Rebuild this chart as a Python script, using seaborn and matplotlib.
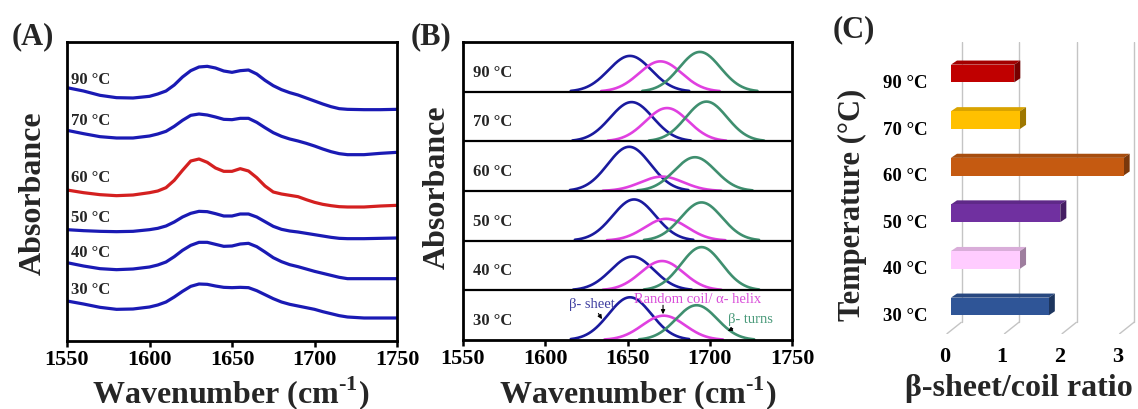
import numpy as np
import pandas as pd
import matplotlib
matplotlib.use("Agg")
import matplotlib.pyplot as plt
import seaborn as sns
from matplotlib.patches import Polygon
from matplotlib.colors import to_rgb

# ---------------- data ----------------
temps = ["30 °C", "40 °C", "50 °C", "60 °C", "70 °C", "90 °C"]   # bottom -> top

# (A) FTIR spectra (offset absorbance, a.u.)
wavenumber = [1550, 1560, 1570, 1580, 1590, 1600, 1605, 1610, 1615, 1620, 1625, 1630, 1635,
              1640, 1645, 1650, 1655, 1660, 1665, 1670, 1675, 1680, 1685, 1690, 1695, 1700,
              1705, 1710, 1715, 1720, 1730, 1740, 1750]
abs_30 = [1.20, 1.11, 1.01, 0.95, 0.96, 1.02, 1.08, 1.17, 1.32, 1.49, 1.64, 1.71, 1.70,
          1.65, 1.61, 1.60, 1.61, 1.60, 1.51, 1.39, 1.27, 1.17, 1.10, 1.05, 1.00, 0.95,
          0.88, 0.82, 0.76, 0.72, 0.69, 0.69, 0.69]
abs_40 = [2.35, 2.25, 2.17, 2.14, 2.16, 2.22, 2.28, 2.37, 2.53, 2.72, 2.87, 2.96, 2.96,
          2.90, 2.84, 2.85, 2.91, 2.93, 2.83, 2.67, 2.50, 2.38, 2.29, 2.23, 2.16, 2.09,
          2.03, 1.97, 1.91, 1.87, 1.87, 1.87, 1.87]
abs_50 = [3.34, 3.31, 3.29, 3.28, 3.29, 3.34, 3.38, 3.45, 3.57, 3.72, 3.83, 3.89, 3.88,
          3.82, 3.75, 3.75, 3.81, 3.81, 3.72, 3.58, 3.44, 3.35, 3.30, 3.27, 3.23, 3.19,
          3.15, 3.11, 3.08, 3.07, 3.07, 3.08, 3.09]
abs_60 = [4.53, 4.45, 4.39, 4.36, 4.38, 4.45, 4.50, 4.60, 4.82, 5.12, 5.40, 5.46, 5.36,
          5.19, 5.09, 5.09, 5.17, 5.10, 4.90, 4.65, 4.47, 4.41, 4.37, 4.33, 4.24, 4.16,
          4.10, 4.06, 4.03, 4.02, 4.02, 4.05, 4.07]
abs_70 = [6.32, 6.22, 6.13, 6.09, 6.09, 6.15, 6.21, 6.29, 6.44, 6.62, 6.77, 6.81, 6.78,
          6.72, 6.65, 6.64, 6.68, 6.68, 6.56, 6.40, 6.25, 6.14, 6.06, 6.00, 5.93, 5.85,
          5.76, 5.68, 5.62, 5.59, 5.59, 5.63, 5.66]
abs_90 = [7.60, 7.50, 7.37, 7.30, 7.29, 7.34, 7.41, 7.50, 7.68, 7.92, 8.11, 8.22, 8.24,
          8.19, 8.10, 8.06, 8.11, 8.13, 8.01, 7.82, 7.66, 7.54, 7.45, 7.38, 7.29, 7.20,
          7.11, 7.03, 6.97, 6.95, 6.94, 6.94, 6.95]
label_y_A = [1.57, 2.68, 3.73, 4.93, 6.64, 7.87]

# (B) Gaussian band fit: centre (cm-1), relative height, width (sigma, cm-1)
sheet_center = [1651.5, 1653.0, 1654.0, 1651.0, 1652.5, 1651.5]
sheet_height = [0.86, 0.68, 0.83, 0.89, 0.79, 0.72]
coil_center = [1672.0, 1671.0, 1673.5, 1671.0, 1674.0, 1670.0]
coil_height = [0.49, 0.59, 0.44, 0.29, 0.67, 0.61]
turn_center = [1692.0, 1695.0, 1695.0, 1691.0, 1698.0, 1694.0]
turn_height = [0.70, 0.87, 0.77, 0.68, 0.80, 0.80]
band_names = ["β-sheet", "Random coil/α-helix", "β-turns"]
band_sigma = [13.0, 13.0, 12.5]

# (C) beta-sheet / coil ratio
ratio = [1.7, 1.2, 1.9, 3.0, 1.2, 1.1]
bar_colors = ["#2f5597", "#ffccff", "#7030a0", "#c55a11", "#ffc000", "#c00000"]
xticks_C = [0, 1, 2, 3]

# ---------------- style ----------------
sns.set_style("white")
plt.rcParams["font.family"] = ["Liberation Serif", "DejaVu Serif"]
plt.rcParams["font.weight"] = "bold"
plt.rcParams["mathtext.fontset"] = "custom"
plt.rcParams["mathtext.rm"] = "Liberation Serif"
plt.rcParams["mathtext.bf"] = "Liberation Serif:bold"

W, H = 1138, 410
fig = plt.figure(figsize=(W / 100, H / 100), dpi=100)


def box(l, r, t, b):
    return [l / W, (H - b) / H, (r - l) / W, (b - t) / H]


xlabel = r"Wavenumber (cm$^{\mathbf{\text{-}1}}$)"
blue_A, red_A = "#1a1ab4", "#d42020"

# ---------------- (A) ----------------
axA = fig.add_axes(box(67, 397, 43, 342))
series = [abs_30, abs_40, abs_50, abs_60, abs_70, abs_90]
dfA = pd.DataFrame({
    "wn": np.tile(wavenumber, len(temps)),
    "abs": np.concatenate(series),
    "T": np.repeat(temps, len(wavenumber)),
})
palA = {t: (red_A if t == "60 °C" else blue_A) for t in temps}
sns.lineplot(data=dfA, x="wn", y="abs", hue="T", palette=palA, estimator=None,
             linewidth=2.3, legend=False, ax=axA)
for ln in axA.lines:
    ln.set_solid_joinstyle("round")
for t, yv in zip(temps, label_y_A):
    axA.text(1552.5, yv, t, fontsize=12, fontweight="bold", ha="left", va="center")
axA.set_xlim(1550, 1750)
axA.set_ylim(0, 8.97)
axA.set_yticks([])
axA.set_xticks([1550, 1600, 1650, 1700, 1750])

# ---------------- (B) ----------------
axB = fig.add_axes(box(463, 792, 43, 341))
rows = []
grid = np.arange(1550, 1750.01, 0.5)
for i, t in enumerate(temps):
    for name, cen, hei, sg in zip(band_names,
                                  [sheet_center[i], coil_center[i], turn_center[i]],
                                  [sheet_height[i], coil_height[i], turn_height[i]],
                                  band_sigma):
        xs = grid[np.abs(grid - cen) <= 2.8 * sg]
        ys = i + hei * np.exp(-0.5 * ((xs - cen) / sg) ** 2)
        for xv, yv in zip(xs, ys):
            rows.append((t + name, name, xv, yv))
dfB = pd.DataFrame(rows, columns=["key", "band", "wn", "y"])
palB = {"β-sheet": "#1a1a9e", "Random coil/α-helix": "#e040e0", "β-turns": "#3f8f6f"}
sns.lineplot(data=dfB, x="wn", y="y", hue="band", units="key", palette=palB,
             estimator=None, sort=False, linewidth=1.9, legend=False, ax=axB)
for i in range(1, len(temps)):
    axB.axhline(i, color="black", lw=1.6)
for i, t in enumerate(temps):
    axB.text(1556, i + 0.4, t, fontsize=12, fontweight="bold", ha="left", va="center")
axB.set_xlim(1550, 1750)
axB.set_ylim(0, len(temps))
axB.set_yticks([])
axB.set_xticks([1550, 1600, 1650, 1700, 1750])

ann = dict(fontsize=10.5, fontweight="normal", ha="center", va="center")
arr = dict(arrowstyle="-|>", color="black", lw=0.8, mutation_scale=6,
           shrinkA=0, shrinkB=0)
axB.annotate("β- sheet", xy=(1634.5, 0.42), xytext=(1628.5, 0.73),
             color="#3f3fa0", arrowprops=arr, **ann)
axB.annotate("", xy=(1671.6, 0.52), xytext=(1671.6, 0.70), arrowprops=arr)
axB.text(1692.5, 0.83, "Random coil/ α- helix", color="#d94fd9", **ann)
axB.annotate("β- turns", xy=(1711, 0.18), xytext=(1725, 0.43),
             color="#4a9a7a", arrowprops=arr, **ann)

for ax in (axA, axB):
    for s in ax.spines.values():
        s.set_visible(True)
        s.set_color("black")
        s.set_linewidth(2.0)
    ax.tick_params(axis="x", direction="out", length=4, width=1.8, pad=2,
                   labelsize=16, bottom=True, colors="black")
    for lab in ax.get_xticklabels():
        lab.set_fontweight("bold")
    ax.set_xlabel(xlabel, fontsize=23, fontweight="bold", va="center")
    ax.set_ylabel("Absorbance", fontsize=23, fontweight="bold", va="center")
axA.xaxis.set_label_coords(0.497, -0.171)
axA.yaxis.set_label_coords(-0.103, 0.498)
axB.xaxis.set_label_coords(0.53, -0.175)
axB.yaxis.set_label_coords(-0.079, 0.517)

# ---------------- (C) ----------------
axC = fig.add_axes(box(940, 1138, 43, 335))
order = temps[::-1]
dfC = pd.DataFrame({"T": temps, "ratio": ratio})
palC = dict(zip(temps, bar_colors))
sns.barplot(data=dfC, x="ratio", y="T", hue="T", order=order, hue_order=order,
            palette=palC, orient="h", width=0.38, saturation=1, legend=False,
            linewidth=0, edgecolor="none", ax=axC, zorder=3)
axC.set_xlim(-0.19, 3.25)
axC.set_ylim(len(temps) - 1 + 0.59, -0.676)

# back walls / gridlines of the pseudo-3D chart
y_front, y_back, y_top = len(temps) - 1 + 0.59, len(temps) - 1 + 0.333, -0.676
for v in xticks_C:
    axC.plot([v - 0.075, v + 0.186], [y_front, y_back], color="#c4c4c4", lw=1.0, zorder=1,
             solid_capstyle="butt")
    axC.plot([v + 0.186, v + 0.186], [y_back, y_top], color="#c4c4c4", lw=1.0, zorder=1)

# depth faces for bars
ddx, ddy = 0.105, 0.088
for p in list(axC.patches):
    x0, y0, w, h = p.get_x(), p.get_y(), p.get_width(), p.get_height()
    c = np.array(to_rgb(p.get_facecolor()))
    top = Polygon([(x0, y0), (x0 + w, y0), (x0 + w + ddx, y0 - ddy), (x0 + ddx, y0 - ddy)],
                  closed=True, facecolor=c * 0.85, edgecolor="none", zorder=2.9)
    side = Polygon([(x0 + w, y0), (x0 + w + ddx, y0 - ddy), (x0 + w + ddx, y0 + h - ddy),
                    (x0 + w, y0 + h)], closed=True, facecolor=c * 0.62,
                   edgecolor="none", zorder=2.9)
    axC.add_patch(top)
    axC.add_patch(side)

for s in axC.spines.values():
    s.set_visible(False)
axC.set_xticks([v - 0.11 for v in xticks_C])
axC.set_xticklabels([str(v) for v in xticks_C], fontsize=16, fontweight="bold")
axC.set_yticks([i + 0.15 for i in range(len(order))])
axC.set_yticklabels(order, fontsize=13.5, fontweight="bold")
axC.tick_params(axis="both", length=0, colors="black")
axC.tick_params(axis="x", pad=9)
axC.tick_params(axis="y", pad=9)
axC.set_xlabel("β-sheet/coil ratio", fontsize=23, fontweight="bold", va="center")
axC.set_ylabel("Temperature (°C)", fontsize=22, fontweight="bold", va="center")
axC.xaxis.set_label_coords(0.399, -0.182)
axC.yaxis.set_label_coords(-0.444, 0.447)

# panel letters
for txt, (px, py) in zip(["(A)", "(B)", "(C)"], [(33, 37), (431, 37), (854, 30)]):
    fig.text(px / W, 1 - py / H, txt, fontsize=22, fontweight="bold", ha="center", va="center")

fig.savefig("out.png", dpi=100)
